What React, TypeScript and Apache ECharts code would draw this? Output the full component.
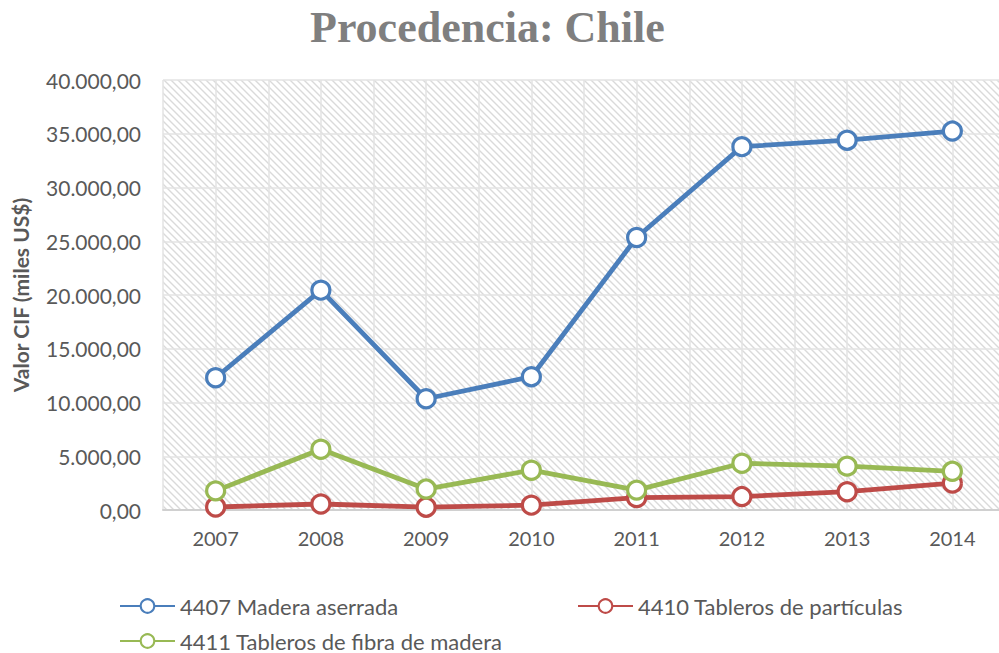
import React, { useEffect, useRef } from "react";
import * as echarts from "echarts";

const years = [2007, 2008, 2009, 2010, 2011, 2012, 2013, 2014];
const maderaAserrada = [12300, 20450, 10350, 12400, 25350, 33800, 34400, 35250];
const tablerosParticulas = [280, 560, 260, 450, 1150, 1250, 1700, 2500];
const tablerosFibra = [1780, 5650, 1950, 3700, 1850, 4350, 4080, 3600];
const seriesNames = [
  "4407 Madera aserrada",
  "4410 Tableros de partículas",
  "4411 Tableros de fibra de madera",
];
const colors = ["#4A7EBB", "#BE4B48", "#98B954"];

const fmt = (v: number) => {
  const s = Math.round(v).toString().replace(/\B(?=(\d{3})+(?!\d))/g, ".");
  return s + ",00";
};

const hatchSvg =
  '<svg xmlns="http://www.w3.org/2000/svg" width="7" height="7">' +
  '<path d="M0,0 L7,7 M-1,6 L1,8 M6,-1 L8,1" stroke="#dadada" stroke-width="1.4"/></svg>';
const hatchUrl = "data:image/svg+xml;charset=utf-8," + encodeURIComponent(hatchSvg);

export default function App() {
  const ref = useRef<HTMLDivElement>(null);
  useEffect(() => {
    if (!ref.current) return;
    const chart = echarts.init(ref.current, null, { renderer: "svg" });
    const mk = (name: string, vals: number[], color: string) => ({
      name,
      type: "line",
      data: years.map((y, i) => [y, vals[i]]),
      symbol: "circle",
      symbolSize: 18,
      lineStyle: { color, width: 4.8 },
      itemStyle: { color: "#ffffff", borderColor: color, borderWidth: 3.2 },
      z: 3,
    });
    const legendCommon = {
      itemWidth: 55,
      itemHeight: 17,
      textStyle: { fontFamily: "Lato", fontSize: 22, color: "#595959" },
    };
    chart.setOption({
      animation: false,
      backgroundColor: "#ffffff",
      graphic: [
        {
          type: "text",
          left: 310,
          top: 5,
          style: {
            text: "Procedencia: Chile",
            fontFamily: "Liberation Serif",
            fontWeight: "bold",
            fontSize: 44,
            fill: "#7F7F7F",
          },
        },
      ],
      grid: {
        left: 163,
        top: 80,
        right: 15,
        bottom: 143,
        show: true,
        borderWidth: 0,
        backgroundColor: { image: hatchUrl, repeat: "repeat" },
      },
      xAxis: {
        type: "value",
        min: 2006.5,
        max: 2014.5,
        interval: 0.5,
        axisLine: { show: true, onZero: false, lineStyle: { color: "#D0D0D0", width: 2 } },
        axisTick: { show: false },
        splitLine: { show: true, lineStyle: { color: "#E3E3E3", width: 1.5 } },
        axisLabel: {
          formatter: (v: number) => (Number.isInteger(v) ? String(v) : ""),
          fontFamily: "Lato",
          fontSize: 20,
          color: "#595959",
          margin: 18,
          showMinLabel: true,
          showMaxLabel: true,
        },
      },
      yAxis: {
        type: "value",
        min: 0,
        max: 40000,
        interval: 5000,
        name: "Valor CIF (miles US$)",
        nameLocation: "middle",
        nameGap: 132,
        nameTextStyle: {
          fontFamily: "Lato",
          fontWeight: "bold",
          fontSize: 21,
          color: "#595959",
        },
        axisLine: { show: false },
        axisTick: { show: false },
        splitLine: { show: true, lineStyle: { color: "#E3E3E3", width: 1.5 } },
        axisLabel: {
          formatter: fmt,
          fontFamily: "Lato",
          fontSize: 21,
          color: "#595959",
          margin: 22,
        },
      },
      legend: [
        { ...legendCommon, data: [seriesNames[0]], left: 114, top: 590 },
        { ...legendCommon, data: [seriesNames[1]], left: 572, top: 590 },
        { ...legendCommon, data: [seriesNames[2]], left: 114, top: 625 },
      ],
      series: [
        mk(seriesNames[0], maderaAserrada, colors[0]),
        mk(seriesNames[1], tablerosParticulas, colors[1]),
        mk(seriesNames[2], tablerosFibra, colors[2]),
      ],
    });
    return () => chart.dispose();
  }, []);
  return (
    <div
      style={{
        position: "fixed",
        left: 0,
        top: 0,
        width: 999,
        height: 653,
        overflow: "hidden",
        background: "#fff",
      }}
    >
      <div ref={ref} style={{ width: 1020, height: 653 }} />
    </div>
  );
}
